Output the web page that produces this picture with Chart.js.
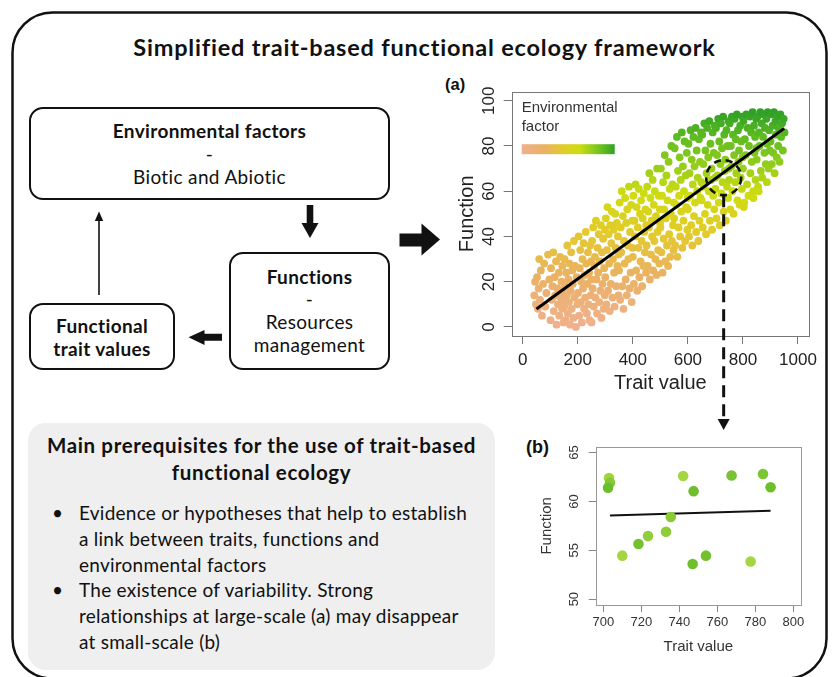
<!DOCTYPE html>
<html>
<head>
<meta charset="utf-8">
<title>Simplified trait-based functional ecology framework</title>
<script src="https://cdn.jsdelivr.net/npm/chart.js@4.4.1/dist/chart.umd.min.js"></script>
<style>
  html, body { margin: 0; padding: 0; background: #fff; }
  #fig { position: relative; width: 833px; height: 677px; overflow: hidden; font-family: Lato, "Open Sans", sans-serif; color: #111; }
  #deco { position: absolute; left: 0; top: 0; }
  .title { position: absolute; left: 0; width: 849px; top: 32px; text-align: center; font-weight: bold; font-size: 23.5px; letter-spacing: 0.8px; line-height: 30px; }
  .box { position: absolute; box-sizing: border-box; border: 2px solid #111; border-radius: 14px; background: #fff;
         display: flex; flex-direction: column; align-items: center; justify-content: center; text-align: center;
         font-size: 19px; letter-spacing: 0.35px; line-height: 23px; }
  .panel { position: absolute; font-family: "Liberation Sans", Arial, sans-serif; font-weight: bold; color: #111; }
  #prereq { position: absolute; left: 28px; top: 423px; width: 467px; height: 247px; background: #efefef; border-radius: 18px; }
  #prereq .head { position: absolute; left: 0; width: 467px; top: 9px; text-align: center; font-weight: bold; font-size: 20.5px; letter-spacing: 0.64px; line-height: 26.7px; }
  #prereq .list { position: absolute; left: 51px; top: 77px; font-size: 19px; letter-spacing: 0.25px; line-height: 25.8px; white-space: nowrap; }
  #prereq .item { position: relative; }
  #prereq .dot { position: absolute; left: -27px; }
  .chart { position: absolute; }
</style>
</head>
<body>
<div id="fig">
  <svg id="deco" width="833" height="677">
    <rect x="12.5" y="12.5" width="814" height="666" rx="40" ry="40" fill="none" stroke="#111" stroke-width="2.5"/>
    <!-- arrows of the flow diagram -->
    <polygon points="306.7,205 313.3,205 313.3,223 318.5,223 310,238 301.5,223 306.7,223" fill="#111"/>
    <polygon points="222,333.8 222,340.8 204.5,340.8 204.5,345 188.5,337.3 204.5,330 204.5,333.8" fill="#111"/>
    <line x1="99" y1="295" x2="99" y2="219" stroke="#111" stroke-width="1.6"/>
    <polygon points="99,211.5 94.8,221 103.2,221" fill="#111"/>
    <polygon points="399.5,233.5 421.5,233.5 421.5,223.5 440,239.5 421.5,255.5 421.5,246.5 399.5,246.5" fill="#111"/>
  </svg>

  <div class="title">Simplified trait-based functional ecology framework</div>

  <div class="box" style="left:29px; top:107px; width:361px; height:93px;">
    <div><b>Environmental factors</b></div><div>-</div><div>Biotic and Abiotic</div>
  </div>
  <div class="box" style="left:229px; top:252px; width:161px; height:118px; line-height:22.7px;">
    <div><b>Functions</b></div><div>-</div><div>Resources</div><div>management</div>
  </div>
  <div class="box" style="left:29px; top:303px; width:146px; height:67px;">
    <div><b>Functional</b></div><div><b>trait values</b></div>
  </div>

  <div id="prereq">
    <div class="head">Main prerequisites for the use of trait-based<br>functional ecology</div>
    <div class="list">
      <div class="item"><span class="dot">•</span>Evidence or hypotheses that help to establish<br>a link between traits, functions and<br>environmental factors</div>
      <div class="item"><span class="dot">•</span>The existence of variability. Strong<br>relationships at large-scale (a) may disappear<br>at small-scale (b)</div>
    </div>
  </div>

  <div class="panel" style="left:445px; top:75px; font-size:16.5px;">(a)</div>
  <canvas id="chartA" class="chart" width="390" height="365" style="left:440px; top:70px;"></canvas>

  <div class="panel" style="left:526px; top:437px; font-size:18px;">(b)</div>
  <canvas id="chartB" class="chart" width="320" height="242" style="left:500px; top:435px;"></canvas>
</div>

<script>
// ===== Data: panel (a), large-scale sample =====
const traitA = [
  42, 45, 48, 52, 55, 58, 60, 63, 66, 70, 74, 78, 82, 86, 92, 97,
  101, 103, 106, 108, 111, 113, 116, 118, 121, 123, 126, 128, 131, 133, 136, 138, 141, 143, 144, 146, 148, 149,
  151, 152, 154, 156, 158, 160, 162, 164, 166, 168, 170, 172, 174, 176, 178, 180, 182, 184, 186, 188, 190, 193, 196, 199,
  201, 203, 205, 207, 209, 211, 213, 215, 217, 219, 221, 223, 225, 227, 229, 231, 233, 235, 237, 239, 241, 243, 245, 247, 248, 249,
  250, 252, 254, 256, 258, 260, 262, 264, 266, 268, 270, 272, 274, 276, 278, 280, 282, 284, 286, 288, 290, 292, 294, 296, 298, 299,
  300, 302, 304, 306, 308, 310, 312, 314, 316, 318, 320, 322, 324, 326, 328, 330, 332, 334, 336, 338, 340, 342, 344, 346, 348, 349,
  350, 352, 354, 356, 358, 360, 362, 364, 366, 368, 370, 372, 374, 376, 378, 380, 382, 384, 386, 388, 390, 392, 394, 396, 398, 399,
  400, 402, 404, 406, 408, 410, 412, 414, 416, 418, 420, 422, 424, 426, 428, 430, 432, 434, 436, 438, 440, 442, 444, 446, 448, 449,
  450, 452, 454, 456, 458, 460, 462, 464, 466, 468, 470, 472, 474, 476, 478, 480, 482, 484, 486, 488, 490, 492, 494, 496, 498, 499,
  500, 502, 504, 506, 508, 510, 512, 514, 516, 518, 520, 522, 524, 526, 528, 530, 532, 534, 536, 538, 540, 542, 544, 546, 548, 549,
  550, 552, 554, 556, 558, 560, 562, 564, 566, 568, 570, 572, 574, 576, 578, 580, 582, 584, 586, 588, 590, 592, 594, 596, 598, 599,
  600, 602, 604, 606, 608, 610, 612, 614, 616, 618, 620, 622, 624, 626, 628, 630, 632, 634, 636, 638, 640, 642, 644, 646, 648, 649,
  650, 652, 654, 656, 658, 660, 662, 664, 666, 668, 670, 672, 674, 676, 678, 680, 682, 684, 686, 688, 690, 692, 694, 696, 698, 699,
  700, 702, 704, 706, 708, 710, 712, 714, 716, 718, 720, 722, 724, 726, 728, 730, 732, 734, 736, 738, 740, 742, 744, 746, 748, 749,
  750, 752, 754, 756, 758, 760, 762, 764, 766, 768, 770, 772, 774, 776, 778, 780, 782, 784, 786, 788, 790, 792, 794, 796, 798, 799,
  800, 802, 805, 807, 810, 812, 815, 817, 820, 822, 825, 827, 830, 832, 835, 837, 840, 842, 844, 846, 848, 849, 803, 838,
  850, 853, 855, 858, 860, 863, 865, 868, 870, 873, 875, 878, 880, 883, 885, 888, 890, 893, 895, 898, 857, 887,
  900, 903, 905, 908, 910, 913, 915, 918, 920, 923, 925, 928, 930, 933, 936, 939, 942, 945, 948, 951
];
const funcA = [
  14, 20, 10, 22, 8, 17, 30, 12, 25, 5, 19, 28, 9, 15, 32, 21,
  3, 26, 12, 18, 33, 7, 22, 14, 29, 1, 17, 10, 24, 5, 31, 13, 20, 8, 27, 16, 2, 11,
  9, 30, 18, 3, 24, 14, 36, 6, 21, 11, 28, 1, 16, 33, 8, 25, 19, 4, 38, 13, 27, 0, 22, 10,
  15, 40, 5, 26, 34, 11, 20, 2, 30, 17, 37, 8, 23, 13, 42, 28, 6, 19, 33, 10, 24, 3, 36, 14, 29, 21,
  2, 38, 17, 44, 9, 27, 31, 13, 47, 21, 6, 35, 24, 41, 11, 29, 16, 45, 4, 33, 19, 39, 8, 26, 14, 43,
  22, 48, 10, 34, 53, 16, 41, 28, 7, 45, 19, 37, 51, 13, 30, 43, 24, 9, 50, 35, 18, 46, 27, 40, 14, 32,
  25, 55, 12, 44, 33, 60, 18, 49, 8, 38, 28, 57, 21, 46, 14, 52, 36, 30, 62, 17, 42, 24, 54, 11, 47, 35,
  31, 58, 19, 47, 40, 63, 25, 53, 16, 44, 35, 61, 22, 50, 29, 56, 38, 18, 48, 27, 59, 42, 33, 52, 24, 45,
  36, 62, 27, 51, 44, 68, 21, 57, 32, 47, 40, 65, 25, 54, 38, 60, 30, 49, 23, 70, 42, 34, 58, 28, 52, 46,
  44, 70, 33, 58, 24, 64, 39, 52, 76, 29, 48, 67, 36, 56, 27, 73, 41, 61, 31, 50, 80, 38, 63, 45, 34, 55,
  48, 79, 36, 62, 54, 84, 31, 69, 44, 58, 75, 40, 65, 51, 86, 35, 71, 47, 60, 82, 38, 67, 53, 77, 43, 57,
  52, 81, 40, 68, 58, 87, 45, 74, 36, 63, 84, 49, 71, 55, 88, 42, 78, 60, 66, 38, 83, 47, 73, 57, 86, 64,
  56, 85, 44, 72, 62, 90, 50, 78, 41, 68, 88, 54, 75, 60, 91, 47, 81, 65, 70, 43, 86, 58, 77, 52, 89, 66,
  61, 88, 48, 76, 67, 92, 55, 82, 45, 72, 90, 59, 79, 64, 93, 51, 85, 69, 74, 47, 87, 62, 80, 57, 91, 70,
  65, 90, 52, 80, 71, 93, 60, 85, 50, 76, 92, 64, 83, 68, 94, 56, 87, 73, 78, 54, 89, 66, 82, 61, 93, 75,
  70, 91, 55, 83, 76, 94, 63, 88, 58, 80, 93, 68, 86, 73, 95, 60, 89, 77, 84, 65, 92, 79, 53, 57,
  74, 93, 62, 86, 80, 95, 69, 90, 66, 84, 94, 77, 88, 72, 92, 81, 95, 70, 87, 78, 60, 64,
  82, 94, 72, 89, 77, 95, 68, 91, 85, 75, 93, 80, 88, 73, 94, 84, 90, 78, 92, 86
];
const fitTraitA = [50, 950];
const fitFuncA = [7.9, 87.8];
const tickTraitA = [0, 200, 400, 600, 800, 1000];
const tickFuncA = [0, 20, 40, 60, 80, 100];
const zoomTrait = 730;   // centre of the dashed circle (data units)
const zoomFunc = 66;

// ===== Data: panel (b), small-scale sample =====
const traitB = [703, 703.5, 702.5, 710, 718.5, 723.5, 733, 735.5, 742, 747.5, 747, 754, 767.5, 777.5, 784, 788];
const funcB = [62.4, 61.9, 61.4, 54.45, 55.65, 56.45, 56.9, 58.4, 62.6, 61.05, 53.6, 54.45, 62.65, 53.85, 62.8, 61.45];
const envB = [0.3, 0.6, 0.9, 0.25, 0.8, 0.45, 0.5, 0.55, 0.25, 0.85, 0.85, 0.8, 0.75, 0.25, 0.7, 0.85];
const fitTraitB = [703.5, 788];
const fitFuncB = [58.55, 59.05];
const tickTraitB = [700, 720, 740, 760, 780, 800];
const tickFuncB = [50, 55, 60, 65];

// ===== Helpers =====
const el = (id) => document.getElementById(id);
const toXY = (xs, ys) => xs.map((x, i) => ({ x, y: ys[i] }));
const SANS = '"Liberation Sans", Arial, Helvetica, sans-serif';

// environmental factor colour ramp: tan -> yellow -> green
const envStops = [
  [0.00, [240, 176, 142]],
  [0.25, [234, 178, 98]],
  [0.45, [226, 204, 40]],
  [0.62, [206, 220, 18]],
  [0.75, [150, 206, 28]],
  [0.88, [96, 188, 32]],
  [1.00, [48, 160, 40]]
];
function mix(a, b, f) {
  return a.map((v, i) => Math.round(v + (b[i] - v) * f));
}
function envColor(t) {
  t = Math.max(0, Math.min(1, t));
  for (let i = 1; i < envStops.length; i++) {
    const [p0, c0] = envStops[i - 1];
    const [p1, c1] = envStops[i];
    if (t <= p1) return `rgb(${mix(c0, c1, (t - p0) / (p1 - p0)).join(",")})`;
  }
  return `rgb(${envStops[envStops.length - 1][1].join(",")})`;
}
const greenLight = [186, 222, 74];
const greenDark = [98, 186, 40];
const greenB = (t) => `rgb(${mix(greenLight, greenDark, t).join(",")})`;

// ===== Plugins (R-like box + rotated y labels) =====
const rFrame = {
  id: "rFrame",
  afterDraw(chart, args, opts) {
    const { ctx, chartArea: a } = chart;
    ctx.save();
    ctx.strokeStyle = opts.color || "#777";
    ctx.lineWidth = 1;
    ctx.strokeRect(Math.round(a.left) + 0.5, Math.round(a.top) + 0.5, Math.round(a.right - a.left), Math.round(a.bottom - a.top));
    ctx.restore();
  }
};

const rYLabels = {
  id: "rYLabels",
  afterDraw(chart, args, opts) {
    const { ctx, chartArea, scales: { y } } = chart;
    ctx.save();
    ctx.fillStyle = opts.color || "#222";
    ctx.font = `${opts.size}px ${SANS}`;
    ctx.textAlign = "center";
    ctx.textBaseline = "middle";
    y.ticks.forEach((t) => {
      ctx.save();
      ctx.translate(chartArea.left - opts.gap, y.getPixelForValue(t.value));
      ctx.rotate(-Math.PI / 2);
      ctx.fillText(String(t.value), 0, 0);
      ctx.restore();
    });
    ctx.restore();
  }
};

// legend bar, dashed zoom circle and the dashed arrow towards panel (b)
const zoomMarker = {
  id: "zoomMarker",
  afterDraw(chart) {
    const { ctx, chartArea: a, scales: { x, y } } = chart;
    ctx.save();

    // legend
    ctx.fillStyle = "#333";
    ctx.font = `15px ${SANS}`;
    ctx.textAlign = "left";
    ctx.textBaseline = "middle";
    ctx.fillText("Environmental", a.left + 10, a.top + 16.5);
    ctx.fillText("factor", a.left + 10, a.top + 35.5);
    const g = ctx.createLinearGradient(a.left + 10, 0, a.left + 103, 0);
    envStops.forEach(([p, c]) => g.addColorStop(p, `rgb(${c.join(",")})`));
    ctx.fillStyle = g;
    ctx.fillRect(a.left + 10, a.top + 52.5, 93, 10);

    // dashed circle
    const cx = x.getPixelForValue(zoomTrait);
    const cy = y.getPixelForValue(zoomFunc);
    const r = 17.5;
    ctx.strokeStyle = "#111";
    ctx.lineWidth = 2.6;
    ctx.setLineDash([7, 5]);
    ctx.beginPath();
    ctx.arc(cx, cy, r, 0, Math.PI * 2);
    ctx.stroke();

    // dashed drop line with arrow head
    const tipY = chart.height - 5;
    ctx.lineWidth = 3;
    ctx.setLineDash([12, 7]);
    ctx.beginPath();
    ctx.moveTo(cx, cy + r);
    ctx.lineTo(cx, tipY - 9);
    ctx.stroke();
    ctx.setLineDash([]);
    ctx.fillStyle = "#111";
    ctx.beginPath();
    ctx.moveTo(cx - 6, tipY - 11);
    ctx.lineTo(cx + 6, tipY - 11);
    ctx.lineTo(cx, tipY);
    ctx.closePath();
    ctx.fill();
    ctx.restore();
  }
};

// ===== Chart (a) =====
function renderChartA() {
  const ctx = el("chartA");
  return new Chart(ctx, {
    type: "scatter",
    data: {
      datasets: [
        {
          label: "fit",
          data: toXY(fitTraitA, fitFuncA),
          showLine: true,
          borderColor: "#000",
          borderWidth: 3,
          pointRadius: 0,
          fill: false
        },
        {
          label: "samples",
          data: toXY(traitA, funcA),
          pointRadius: 3.9,
          pointBorderWidth: 0,
          pointBackgroundColor: funcA.map((v) => envColor(v / 95))
        }
      ]
    },
    plugins: [rFrame, rYLabels, zoomMarker],
    options: {
      responsive: false,
      animation: false,
      layout: { padding: { left: 0, right: 21, top: 21.7, bottom: 39 } },
      plugins: {
        legend: { display: false },
        tooltip: { enabled: false },
        rFrame: { color: "#777" },
        rYLabels: { size: 17, gap: 22, color: "#222" }
      },
      scales: {
        x: {
          type: "linear",
          min: -40,
          max: 1040,
          afterBuildTicks: (s) => { s.ticks = tickTraitA.map((v) => ({ value: v })); },
          afterFit: (s) => { s.height = 60; },
          grid: { drawOnChartArea: false, drawTicks: true, tickLength: 8, color: "#777" },
          border: { display: false },
          ticks: { color: "#222", font: { family: SANS, size: 17 }, padding: 6, maxRotation: 0, autoSkip: false, callback: (v) => String(v) },
          title: { display: true, text: "Trait value", color: "#222", font: { family: SANS, size: 20 }, padding: { top: 0, bottom: 1 } }
        },
        y: {
          type: "linear",
          min: -4,
          max: 104,
          afterBuildTicks: (s) => { s.ticks = tickFuncA.map((v) => ({ value: v })); },
          afterFit: (s) => { s.width = 71.7; },
          grid: { drawOnChartArea: false, drawTicks: true, tickLength: 8, color: "#777" },
          border: { display: false },
          ticks: { display: false },
          title: { display: true, text: "Function", color: "#222", font: { family: SANS, size: 20 }, padding: { top: 15.5, bottom: 0 } }
        }
      }
    }
  });
}

// ===== Chart (b) =====
function renderChartB() {
  const ctx = el("chartB");
  return new Chart(ctx, {
    type: "scatter",
    data: {
      datasets: [
        {
          label: "samples",
          data: toXY(traitB, funcB),
          pointRadius: 5.3,
          pointBorderWidth: 0,
          pointBackgroundColor: envB.map(greenB)
        },
        {
          label: "fit",
          data: toXY(fitTraitB, fitFuncB),
          showLine: true,
          borderColor: "#111",
          borderWidth: 2,
          pointRadius: 0,
          fill: false
        }
      ]
    },
    plugins: [rFrame, rYLabels],
    options: {
      responsive: false,
      animation: false,
      layout: { padding: { left: 30, right: 19, top: 11.7, bottom: 17 } },
      plugins: {
        legend: { display: false },
        tooltip: { enabled: false },
        rFrame: { color: "#999" },
        rYLabels: { size: 13, gap: 21, color: "#333" }
      },
      scales: {
        x: {
          type: "linear",
          min: 696,
          max: 804,
          afterBuildTicks: (s) => { s.ticks = tickTraitB.map((v) => ({ value: v })); },
          afterFit: (s) => { s.height = 55; },
          grid: { drawOnChartArea: false, drawTicks: true, tickLength: 7, color: "#888" },
          border: { display: false },
          ticks: { color: "#333", font: { family: SANS, size: 13 }, padding: 3, maxRotation: 0, autoSkip: false, callback: (v) => String(v) },
          title: { display: true, text: "Trait value", color: "#333", font: { family: SANS, size: 15 }, padding: { top: 0, bottom: 4 } }
        },
        y: {
          type: "linear",
          min: 49.4,
          max: 65.6,
          afterBuildTicks: (s) => { s.ticks = tickFuncB.map((v) => ({ value: v })); },
          afterFit: (s) => { s.width = 65.7; },
          grid: { drawOnChartArea: false, drawTicks: true, tickLength: 7, color: "#888" },
          border: { display: false },
          ticks: { display: false },
          title: { display: true, text: "Function", color: "#333", font: { family: SANS, size: 15 }, padding: { top: 7.7, bottom: 0 } }
        }
      }
    }
  });
}

renderChartA();
renderChartB();
</script>
</body>
</html>
